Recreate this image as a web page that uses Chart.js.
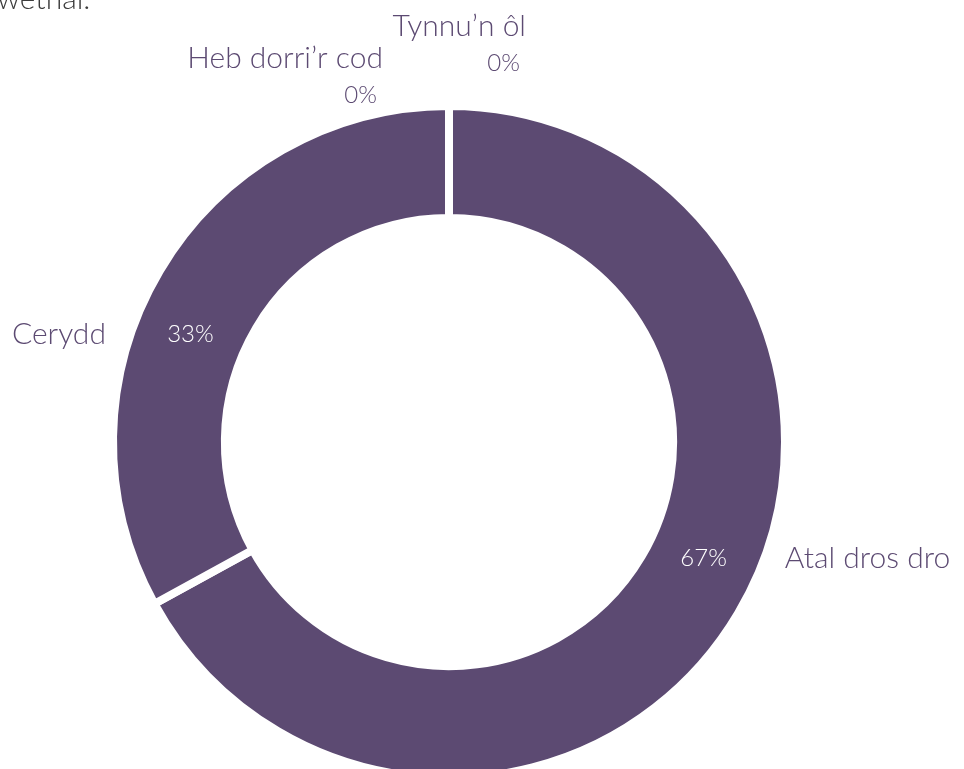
<!DOCTYPE html>
<html><head><meta charset="utf-8">
<script src="https://cdn.jsdelivr.net/npm/chart.js@4"></script>
<style>html,body{margin:0;padding:0;background:#fff;overflow:hidden}#wrap{position:relative;width:964px;height:769px}</style>
</head><body><div id="wrap"><canvas id="c" width="964" height="769"></canvas></div>
<script>
const categories = ["Atal dros dro", "Cerydd", "Heb dorri’r cod", "Tynnu’n ôl"];
const percentValues = [67, 33, 0, 0];
const percentLabels = ["67%", "33%", "0%", "0%"];
const headText = "wethal.";
const purple = "#5c4a72";
const FONT = "Lato";

const labelPlugin = {
  id: 'labels',
  afterDraw(chart) {
    const ctx = chart.ctx;
    const meta = chart.getDatasetMeta(0);
    ctx.save();
    // clipped text from preceding paragraph
    ctx.fillStyle = '#3c3c3c';
    ctx.font = `300 30px ${FONT}`;
    ctx.textAlign = 'left';
    ctx.textBaseline = 'alphabetic';
    ctx.fillText(headText, -3, 9);
    ctx.textBaseline = 'middle';
    meta.data.forEach((arc, i) => {
      const p = arc.getProps(['x','y','startAngle','endAngle','innerRadius','outerRadius'], true);
      const outerVis = p.outerRadius - 4, innerVis = p.innerRadius + 4;
      if (percentValues[i] > 0) {
        const shift = (i === 0 ? -6 : -8) * Math.PI / 180;
        const mid = (p.startAngle + p.endAngle) / 2 + shift;
        const r = (outerVis + innerVis) / 2;
        const lx = p.x + Math.cos(mid) * r, ly = p.y + Math.sin(mid) * r;
        ctx.fillStyle = '#ffffff';
        ctx.font = `300 24px ${FONT}`;
        ctx.textAlign = 'center';
        ctx.fillText(percentLabels[i], lx, ly);
        const dy = ly - p.y;
        const dx = Math.sqrt(Math.max(outerVis * outerVis - dy * dy, 0));
        const right = Math.cos(mid) >= 0;
        ctx.fillStyle = purple;
        ctx.font = `300 30px ${FONT}`;
        ctx.textAlign = right ? 'left' : 'right';
        ctx.fillText(categories[i], right ? p.x + dx + 25 : p.x - dx - 29, ly);
      } else {
        // zero slices stacked above the top of the ring
        const k = i - 2;
        const top = p.y - outerVis;
        const xr = k === 0 ? p.x - 66 : p.x + 77;
        const yName = k === 0 ? top - 52 : top - 84;
        ctx.fillStyle = purple;
        ctx.textAlign = 'right';
        ctx.font = `300 30px ${FONT}`;
        ctx.fillText(categories[i], xr, yName);
        ctx.font = `300 24px ${FONT}`;
        ctx.fillText(percentLabels[i], xr - 6, yName + 37);
      }
    });
    ctx.restore();
  }
};

new Chart(document.getElementById('c'), {
  type: 'doughnut',
  data: {
    labels: categories,
    datasets: [{
      data: percentValues,
      backgroundColor: purple,
      hoverBackgroundColor: purple,
      borderColor: '#ffffff',
      hoverBorderColor: '#ffffff',
      borderWidth: 8,
      borderAlign: 'center'
    }]
  },
  options: {
    responsive: false,
    animation: false,
    events: [],
    radius: 336,
    cutout: '66.7%',
    layout: { padding: { left: 0, right: 66, top: 115, bottom: 0 } },
    plugins: { legend: { display: false }, tooltip: { enabled: false } }
  },
  plugins: [labelPlugin]
});
</script></body></html>
